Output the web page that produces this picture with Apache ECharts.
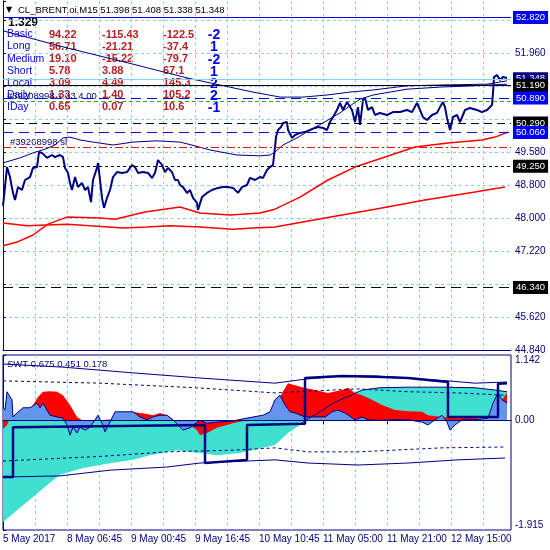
<!DOCTYPE html>
<html>
<head>
<meta charset="utf-8">
<title>CL_BRENT.oi,M15</title>
<script src="https://cdn.jsdelivr.net/npm/echarts@6/dist/echarts.min.js"></script>
<style>
  html, body { margin: 0; padding: 0; background: #fff; }
  #chart { width: 550px; height: 550px; }
</style>
</head>
<body>
<div id="chart"></div>
<script>
// x is the bar number (M15 bars, one pixel each), bar 0 = 5 May 2017
var timeLabels = ['5 May 2017', '8 May 06:45', '9 May 00:45', '9 May 16:45',
                  '10 May 10:45', '11 May 05:00', '11 May 21:00', '12 May 15:00'];
var timeTickBars = [0, 64, 128, 192, 256, 320, 384, 448];
// labels hidden behind the level boxes are left empty
var priceTickLabels = ['44.840', '45.620', '', '47.220', '48.000', '48.800',
                       '49.580', '', '', '51.960', ''];

// close price
var priceBar = [0,2,4,7,10,12,15,19,22,27,30,34,36,39,44,49,52,57,60,62,65,67,69,72,75,79,82,85,88,90,
  94,95,97,99,101,104,107,110,114,119,124,129,132,135,140,145,149,152,155,159,162,165,169,172,175,177,180,184,187,190,
  194,195,199,204,209,215,220,225,230,235,239,244,247,252,257,260,264,267,270,272,273,275,278,280,284,285,289,292,297,302,
  307,312,315,320,324,327,330,334,337,340,344,349,352,355,357,360,362,365,369,372,377,384,390,397,404,409,414,417,420,424,
  429,434,437,440,442,444,447,450,454,457,462,467,474,479,484,489,490,491,494,497,500,504];
var priceClose = [48.30,48.75,49.23,48.99,48.61,48.44,48.75,48.68,48.92,48.99,49.21,49.23,49.59,49.57,49.45,49.52,49.47,49.52,49.47,49.21,
  49.09,48.85,48.68,48.99,48.75,48.85,48.68,48.75,48.39,48.92,49.21,49.33,48.92,48.49,48.25,48.49,48.68,48.99,49.11,49.09,
  49.11,49.28,49.23,49.09,49.11,49.09,48.97,49.09,49.40,49.28,49.11,49.21,49.11,48.92,48.92,48.80,48.75,48.61,48.68,48.49,
  48.37,48.20,48.51,48.61,48.68,48.73,48.75,48.75,48.73,48.61,48.75,48.80,48.97,48.92,48.99,48.97,49.16,49.23,49.28,49.71,
  49.95,50.12,50.19,50.29,50.31,50.12,49.93,50.00,50.05,50.07,50.12,50.17,50.19,50.17,50.12,50.31,50.43,50.60,50.77,50.60,
  50.79,50.60,50.31,50.67,50.24,50.84,50.89,50.60,50.67,50.48,50.53,50.48,50.55,50.55,50.60,50.55,50.77,50.60,50.43,50.36,
  50.48,50.53,50.67,50.79,50.67,50.41,50.12,50.43,50.48,50.31,50.60,50.65,50.60,50.55,50.60,50.72,51.01,51.39,51.44,51.32,
  51.39,51.37];

// navy averages
var slowBar = [0,64,130,184,217,250,277,300,324,347,370,404,437,484,504];
var slowVal = [52.50,52.09,51.70,51.37,51.20,51.03,50.91,50.91,50.96,51.03,51.08,51.18,51.20,51.22,51.30];
var bandBar = [0,17,30,42,52,60,67,77,90,110,130,154,177,192,207,234,257,267,272,280,294,307,320,337,347,357,370,387,404,437,470,504];
var bandVal = [49.33,49.45,49.57,49.66,49.76,49.93,49.95,49.88,49.83,49.76,49.83,49.86,49.83,49.74,49.64,49.52,49.50,49.52,49.59,49.76,
  49.93,50.12,50.29,50.53,50.70,50.86,50.96,51.03,51.10,51.15,51.18,51.22];

// red averages
var redFastBar = [0,15,30,45,64,97,112,142,177,197,227,257,272,297,325,352,382,412,445,479,492,505];
var redFastVal = [47.34,47.44,47.60,47.86,48.03,48.01,47.98,48.15,48.27,48.13,48.08,48.13,48.22,48.51,48.92,49.23,49.47,49.71,49.81,49.88,49.95,50.07];
var redSlowBar = [0,24,64,87,120,144,167,197,230,250,272,322,372,422,472,502];
var redSlowVal = [47.89,47.82,47.86,47.82,47.77,47.79,47.82,47.79,47.74,47.77,47.79,48.01,48.22,48.44,48.63,48.75];

// horizontal price levels
var levelPrice = [52.820, 51.348, 51.190, 50.890, 50.820, 50.290, 50.060, 49.707, 49.250, 46.340];
var levelText  = ['52.820', '51.348', '51.190', '50.890', '', '50.290', '50.060', '', '49.250', '46.340'];

// table
var tableTop = '1.329';
var tableNames = ['Basic', 'Long', 'Medium', 'Short', 'Local', 'Daily', 'IDay'];
var tableCol1 = ['94.22', '56.71', '19.10', '5.78', '3.09', '1.33', '0.65'];
var tableCol2 = ['-115.43', '-21.21', '-15.22', '3.88', '4.49', '1.40', '0.07'];
var tableCol3 = ['-122.5', '-37.4', '-79.7', '67.1', '145.3', '105.2', '10.6'];
var tableSignal = ['-2', '1', '-2', '1', '2', '2', '-1'];

// SWT indicator
var swtTickValues = [-1.915, 0, 1.142];
var swtTickText = ['-1.915', '0.00', '1.142'];
var trendBar = [0,14,30,47,57,80,107,130,147,174,197,214,237,260,272,285,297,302,317,332,347,359,377,405,439,472,492,504];
var trendVal = [-1.78,-1.57,-1.34,-1.09,-0.95,-0.83,-0.75,-0.69,-0.61,-0.52,-0.57,-0.61,-0.57,-0.48,-0.43,-0.22,-0.08,0.00,0.15,0.32,
  0.43,0.53,0.57,0.58,0.58,0.57,0.53,0.50];
var redBar = [0,4,7,14,24,30,35,40,47,54,60,67,74,79,97,127,130,137,144,150,157,164,170,182,187,194,197,204,214,230,
  244,257,272,279,285,299,312,325,339,345,352,359,369,379,392,405,419,425,439,459,472,479,487,494,499,504];
var redVal = [-0.15,-0.08,0.04,0.13,0.15,0.27,0.41,0.50,0.51,0.50,0.44,0.27,0.06,0.00,0.00,0.04,0.15,0.13,0.11,0.09,
  0.13,0.09,0.01,-0.03,-0.08,-0.17,-0.26,-0.22,-0.13,-0.05,0.00,0.02,0.18,0.48,0.65,0.58,0.53,0.48,0.53,0.57,
  0.48,0.44,0.36,0.27,0.18,0.16,0.15,0.09,0.06,0.04,0.04,0.01,0.04,0.27,0.36,0.48];
var blueBar = [0,2,4,9,10,14,20,27,34,37,40,47,54,60,64,67,70,74,77,82,87,92,95,99,102,107,112,120,130,137,
  144,150,157,164,170,180,187,192,197,204,214,230,244,260,267,272,277,282,287,292,302,312,322,329,335,342,352,359,365,375,
  389,405,419,425,432,439,444,447,452,459,472,485,490,495,499,504];
var blueVal = [0.23,0.18,0.50,0.36,0.06,0.13,0.22,0.22,0.30,0.22,0.30,0.09,0.06,0.04,-0.08,-0.26,-0.12,-0.22,-0.12,-0.17,
  -0.12,0.01,0.09,-0.05,-0.20,-0.03,0.15,0.15,0.15,0.06,0.01,0.06,0.09,0.09,0.01,-0.17,-0.13,-0.06,0.00,-0.05,
  -0.03,-0.01,0.04,0.09,0.15,0.36,0.44,0.27,0.15,0.13,0.06,0.06,0.06,0.15,0.18,0.13,0.01,0.06,0.01,0.00,
  0.01,0.01,-0.03,-0.08,0.01,0.09,-0.03,-0.17,-0.08,0.01,0.01,0.04,0.30,0.48,0.36,0.30];
var stepBar = [0,10,10,202,202,244,244,302,302,339,372,405,445,445,495,495,504];
var stepVal = [-0.99,-0.99,-0.12,-0.08,-0.745,-0.69,-0.08,-0.06,0.74,0.775,0.76,0.74,0.67,0.06,0.06,0.64,0.65];
var upperBar = [0,60,130,197,272,302,339,372,405,445,472,504];
var upperVal = [0.985,0.93,0.83,0.74,0.65,0.72,0.775,0.775,0.74,0.69,0.65,0.67];
var upperDashBar = [0,97,197,272,305,355,405,455,502];
var upperDashVal = [0.69,0.65,0.565,0.48,0.51,0.55,0.50,0.48,0.44];
var lowerDashBar = [0,97,164,230,272,305,355,439,502];
var lowerDashVal = [-0.71,-0.63,-0.55,-0.52,-0.48,-0.55,-0.55,-0.48,-0.465];
var lowerBar = [0,57,107,164,197,272,305,355,405,455,502];
var lowerVal = [-0.99,-0.97,-0.87,-0.815,-0.745,-0.69,-0.745,-0.78,-0.745,-0.69,-0.657];

var NAVY = '#000080';
var GRIDC = '#87cefa';
var FONT = '"Liberation Sans", Arial, sans-serif';

function pts(xs, ys) {
  return xs.map(function (x, i) { return [x, ys[i]]; });
}

var levelLook = [
  { color: '#0000ff', type: 'solid', box: '#0000ff' },
  { color: GRIDC, type: 'solid', box: NAVY },
  { color: '#000000', type: 'solid', box: '#000000' },
  { color: '#0000ff', type: [10, 6], box: '#0000ff' },
  { color: '#2eaa2e', type: [4, 3] },
  { color: '#000000', type: [8, 5], box: '#000000' },
  { color: '#0000ff', type: [10, 6], box: '#0000ff' },
  { color: '#ff0000', type: [8, 3, 2, 3] },
  { color: '#000000', type: [3, 3], box: '#000000' },
  { color: '#000000', type: [10, 6], box: '#000000' }
];

var levelLines = levelPrice.map(function (p, i) {
  var look = levelLook[i];
  return {
    yAxis: p,
    lineStyle: { color: look.color, type: look.type, width: 1 },
    label: {
      show: !!levelText[i],
      position: 'end',
      distance: 2,
      formatter: levelText[i],
      color: '#ffffff',
      backgroundColor: look.box || 'transparent',
      padding: [2, 3, 1, 3],
      fontFamily: FONT,
      fontSize: 9.5
    }
  };
});

// texts
var texts = [];
texts.push({ type: 'text', x: 6, y: 10, style: { text: '\u25BC', font: '8px "DejaVu Sans"', fill: '#000', verticalAlign: 'middle' } });
texts.push({ type: 'text', x: 18, y: 10, style: { text: 'CL_BRENT.oi,M15 51.398 51.408 51.338 51.348', font: '9.5px ' + FONT, fill: '#000', verticalAlign: 'middle' } });
texts.push({ type: 'text', x: 8, y: 23, style: { text: tableTop, font: 'bold 12px ' + FONT, fill: '#000', verticalAlign: 'middle' } });
tableNames.forEach(function (name, i) {
  var y = 34.5 + i * 12.1;
  texts.push({ type: 'text', x: 7, y: y, style: { text: name, font: '10.5px ' + FONT, fill: '#0000ff', verticalAlign: 'middle' } });
  texts.push({ type: 'text', x: 49, y: y, style: { text: tableCol1[i], font: 'bold 11px ' + FONT, fill: '#b22222', verticalAlign: 'middle' } });
  texts.push({ type: 'text', x: 102, y: y, style: { text: tableCol2[i], font: 'bold 11px ' + FONT, fill: '#b22222', verticalAlign: 'middle' } });
  texts.push({ type: 'text', x: 163, y: y, style: { text: tableCol3[i], font: 'bold 11px ' + FONT, fill: '#b22222', verticalAlign: 'middle' } });
  texts.push({ type: 'text', x: 214, y: y + 1, style: { text: tableSignal[i], font: 'bold 14px ' + FONT, fill: '#0000ff', align: 'center', verticalAlign: 'middle' } });
});
texts.push({ type: 'text', x: 7, y: 96, style: { text: '#39208998 1.33 4.00', font: '9.5px ' + FONT, fill: NAVY, verticalAlign: 'middle' } });
texts.push({ type: 'text', x: 10, y: 142, style: { text: '#39208998 sl', font: '9.5px ' + FONT, fill: NAVY, verticalAlign: 'middle' } });
texts.push({ type: 'text', x: 7, y: 364, style: { text: 'SWT 0.675 0.451 0.178', font: '9.5px ' + FONT, fill: NAVY, verticalAlign: 'middle' } });

var chart = echarts.init(document.getElementById('chart'));

var option = {
  animation: false,
  backgroundColor: '#ffffff',
  graphic: texts,
  grid: [
    { left: 3, right: 39, top: 1, height: 349 },
    { left: 3, right: 39, top: 355, height: 175, show: true, borderColor: NAVY, borderWidth: 1, backgroundColor: 'transparent' }
  ],
  xAxis: [
    {
      gridIndex: 0, type: 'value', position: 'top', min: 0, max: 508, interval: 32,
      axisLine: { show: true, lineStyle: { color: NAVY, width: 1 } },
      axisTick: { show: false }, axisLabel: { show: false },
      splitLine: { show: true, showMinLine: false, showMaxLine: false, lineStyle: { color: GRIDC, type: [3, 3], width: 1 } }
    },
    {
      gridIndex: 1, type: 'value', position: 'bottom', min: 0, max: 508, interval: 32,
      axisLine: { show: true, lineStyle: { color: NAVY, width: 1 } },
      axisTick: { show: true, length: 4, customValues: timeTickBars, lineStyle: { color: NAVY } },
      axisLabel: {
        show: true, customValues: timeTickBars, align: 'left', margin: 4,
        color: NAVY, fontFamily: FONT, fontSize: 10,
        formatter: function (v) { return timeLabels[Math.round(v / 64)] || ''; }
      },
      splitLine: { show: false }
    },
    {
      gridIndex: 1, type: 'value', min: 0, max: 508, interval: 32,
      axisLine: { show: false }, axisTick: { show: false }, axisLabel: { show: false },
      splitLine: { show: true, showMinLine: false, showMaxLine: false, lineStyle: { color: GRIDC, type: [3, 3], width: 1 } }
    }
  ],
  yAxis: [
    {
      gridIndex: 0, type: 'value', position: 'right', min: 44.84, max: 53.216, interval: 0.792,
      axisLine: { show: true, lineStyle: { color: NAVY, width: 1 } },
      axisTick: { show: true, length: 3, lineStyle: { color: NAVY } },
      axisLabel: {
        margin: 4, color: NAVY, fontFamily: FONT, fontSize: 10,
        formatter: function (v) {
          var k = Math.round((v - 44.84) / 0.792);
          if (Math.abs(v - (44.84 + k * 0.792)) > 0.01) return '';
          return priceTickLabels[k] || '';
        }
      },
      splitLine: { show: true, showMaxLine: false, lineStyle: { color: GRIDC, type: [3, 3], width: 1 } }
    },
    {
      gridIndex: 0, type: 'value', position: 'left', min: 0, max: 1,
      axisLine: { show: true, lineStyle: { color: NAVY, width: 1 } },
      axisTick: { show: false }, axisLabel: { show: false }, splitLine: { show: false }
    },
    {
      gridIndex: 1, type: 'value', position: 'right', min: -1.915, max: 1.142,
      axisLine: { show: true, lineStyle: { color: NAVY, width: 1 } },
      axisTick: { show: true, length: 3, customValues: swtTickValues, lineStyle: { color: NAVY } },
      axisLabel: {
        customValues: swtTickValues, margin: 4, color: NAVY, fontFamily: FONT, fontSize: 10,
        verticalAlignMinLabel: 'bottom', verticalAlignMaxLabel: 'top',
        formatter: function (v) {
          for (var i = 0; i < swtTickValues.length; i++) {
            if (Math.abs(v - swtTickValues[i]) < 0.001) return swtTickText[i];
          }
          return '';
        }
      },
      splitLine: { show: false }
    }
  ],
  series: [
    {
      name: 'RedSlow', type: 'line', xAxisIndex: 0, yAxisIndex: 0, data: pts(redSlowBar, redSlowVal),
      symbol: 'none', lineStyle: { color: '#ff0000', width: 1.5 }, silent: true
    },
    {
      name: 'RedFast', type: 'line', xAxisIndex: 0, yAxisIndex: 0, data: pts(redFastBar, redFastVal),
      symbol: 'none', lineStyle: { color: '#ff0000', width: 1.5 }, silent: true
    },
    {
      name: 'Slow', type: 'line', xAxisIndex: 0, yAxisIndex: 0, data: pts(slowBar, slowVal),
      symbol: 'none', lineStyle: { color: NAVY, width: 1 }, silent: true
    },
    {
      name: 'Band', type: 'line', xAxisIndex: 0, yAxisIndex: 0, data: pts(bandBar, bandVal),
      symbol: 'none', lineStyle: { color: NAVY, width: 1 }, silent: true
    },
    {
      name: 'Close', type: 'line', xAxisIndex: 0, yAxisIndex: 0, data: pts(priceBar, priceClose),
      symbol: 'none', lineStyle: { color: NAVY, width: 2 }, silent: true, z: 4,
      markLine: { silent: true, symbol: ['none', 'none'], animation: false, data: levelLines }
    },
    // SWT pane
    {
      name: 'Trend', type: 'line', xAxisIndex: 1, yAxisIndex: 2, data: pts(trendBar, trendVal),
      symbol: 'none', lineStyle: { width: 0 }, areaStyle: { color: '#40e0d0', opacity: 1, origin: 0 }, silent: true
    },
    {
      name: 'Red', type: 'line', xAxisIndex: 1, yAxisIndex: 2, data: pts(redBar, redVal),
      symbol: 'none', lineStyle: { width: 0 }, areaStyle: { color: '#ff0000', opacity: 1, origin: 0 }, silent: true
    },
    {
      name: 'Blue', type: 'line', xAxisIndex: 1, yAxisIndex: 2, data: pts(blueBar, blueVal),
      symbol: 'none', lineStyle: { color: NAVY, width: 1 }, areaStyle: { color: '#6495ed', opacity: 1, origin: 0 }, silent: true,
      markLine: { silent: true, symbol: ['none', 'none'], label: { show: false },
        data: [{ yAxis: 0, lineStyle: { color: NAVY, type: 'solid', width: 1 } }] }
    },
    {
      name: 'TrendEdge', type: 'line', xAxisIndex: 1, yAxisIndex: 2,
      data: pts(trendBar, trendVal).filter(function (d) { return d[0] >= 297; }),
      symbol: 'none', lineStyle: { color: NAVY, width: 1 }, silent: true
    },
    {
      name: 'Upper', type: 'line', xAxisIndex: 1, yAxisIndex: 2, data: pts(upperBar, upperVal),
      symbol: 'none', lineStyle: { color: NAVY, width: 1 }, silent: true
    },
    {
      name: 'UpperDash', type: 'line', xAxisIndex: 1, yAxisIndex: 2, data: pts(upperDashBar, upperDashVal),
      symbol: 'none', lineStyle: { color: NAVY, width: 1, type: [3, 3] }, silent: true
    },
    {
      name: 'LowerDash', type: 'line', xAxisIndex: 1, yAxisIndex: 2, data: pts(lowerDashBar, lowerDashVal),
      symbol: 'none', lineStyle: { color: NAVY, width: 1, type: [3, 3] }, silent: true
    },
    {
      name: 'Lower', type: 'line', xAxisIndex: 1, yAxisIndex: 2, data: pts(lowerBar, lowerVal),
      symbol: 'none', lineStyle: { color: NAVY, width: 1 }, silent: true
    },
    {
      name: 'Step', type: 'line', xAxisIndex: 1, yAxisIndex: 2, data: pts(stepBar, stepVal),
      symbol: 'none', lineStyle: { color: NAVY, width: 2.5 }, silent: true
    }
  ]
};

chart.setOption(option);
</script>
</body>
</html>
